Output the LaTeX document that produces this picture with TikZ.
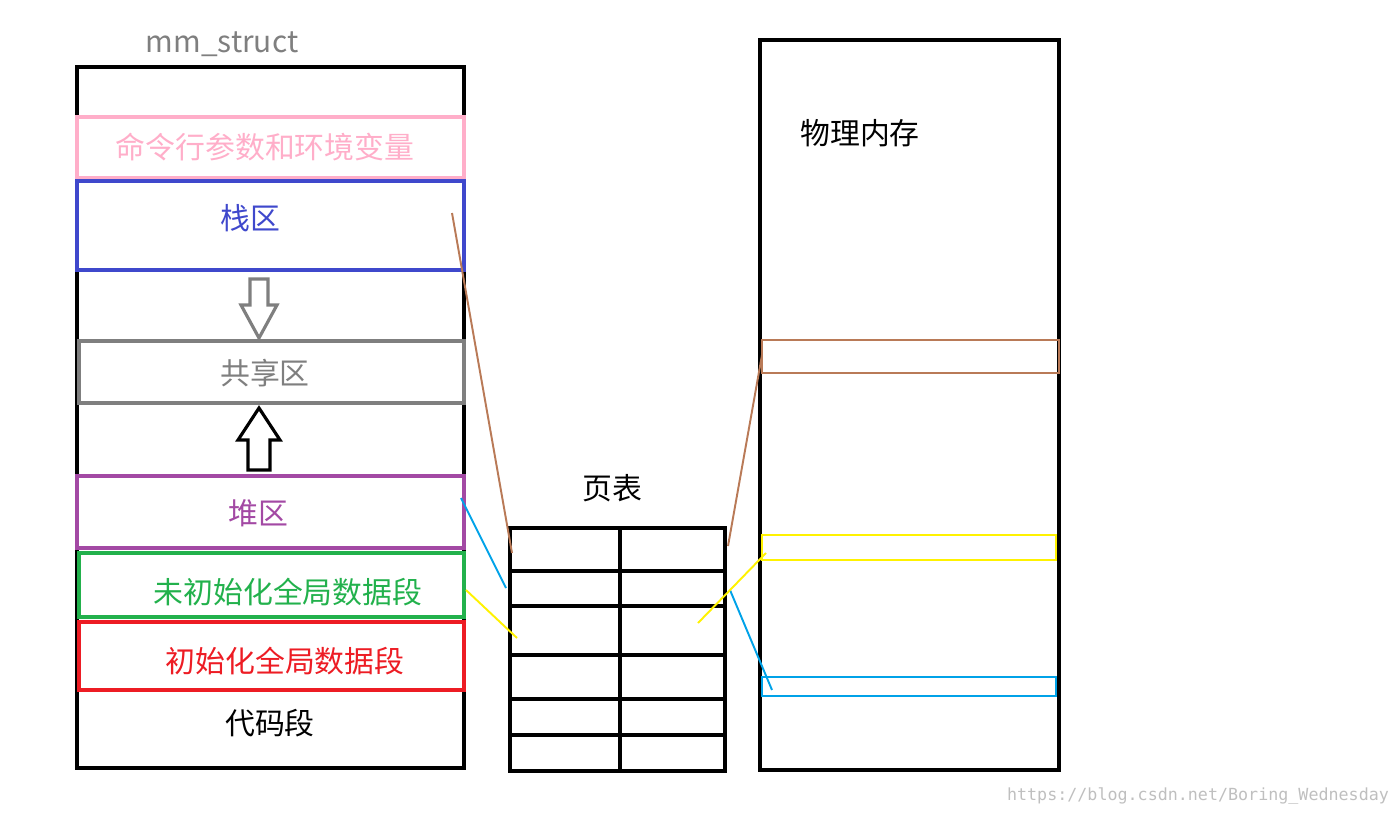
\documentclass[tikz,border=0pt]{standalone}
\usepackage{fontspec}
\setmainfont{Noto Sans CJK SC}
\setmonofont{DejaVu Sans Mono}
\definecolor{pinkc}{RGB}{255,174,201}
\definecolor{bluec}{RGB}{63,72,204}
\definecolor{grayc}{RGB}{127,127,127}
\definecolor{purplec}{RGB}{163,73,164}
\definecolor{greenc}{RGB}{34,177,76}
\definecolor{redc}{RGB}{237,28,36}
\definecolor{brownc}{RGB}{185,122,87}
\definecolor{yellowc}{RGB}{255,242,0}
\definecolor{cyanc}{RGB}{0,162,232}
\tikzset{
  seg/.style={draw, line width=1.8pt, inner sep=0pt},
  band/.style={draw, line width=1.2pt},
  lbl/.style={font=\fontsize{17}{19}\selectfont},
  link/.style={line width=1.1pt}
}
\begin{document}
\begin{tikzpicture}[x=0.02cm, y=-0.02cm]
    \useasboundingbox (0,0) rectangle (1399,816);
    % 进程地址空间
    \draw[line width=2pt] (77,67) rectangle (464,768);
    \node[lbl, text=grayc] (mm) at (222,44) {mm\_struct};
    \draw[seg, pinkc] (77,117) rectangle (464,178);
    \node[lbl, text=pinkc] (args) at (265,147) {命令行参数和环境变量};
    \draw[seg, bluec] (77,181) rectangle (464,270);
    \node[lbl, text=bluec] (stack) at (250,218) {栈区};
    \draw[seg, grayc] (79,341) rectangle (464,403);
    \node[lbl, text=grayc] (shared) at (265,373) {共享区};
    \draw[seg, purplec] (77,476) rectangle (464,548);
    \node[lbl, text=purplec] (heap) at (258,513) {堆区};
    \draw[seg, greenc] (79,553) rectangle (464,617);
    \node[lbl, text=greenc] (bss) at (288,592) {未初始化全局数据段};
    \draw[seg, redc] (79,622) rectangle (464,690);
    \node[lbl, text=redc] (data) at (285,661) {初始化全局数据段};
    \node[lbl] (text) at (270,723) {代码段};

    % 空心箭头
    \draw[line width=1.8pt, grayc] (250,279) -- (268,279) -- (268,305) -- (277,305)
        -- (259,338) -- (241,305) -- (250,305) -- cycle;
    \draw[line width=1.8pt] (248,470) -- (270,470) -- (270,440) -- (280,440)
        -- (259,408) -- (238,440) -- (248,440) -- cycle;

    % 页表
    \node[lbl] (pt) at (612,488) {页表};
    \draw[line width=2pt] (510,528) rectangle (725,771);
    \draw[line width=2pt] (620,528) -- (620,771);
    \foreach \y in {571,606,655,699,735}
        \draw[line width=2pt] (510,\y) -- (725,\y);

    % 物理内存
    \draw[line width=2pt] (760,40) rectangle (1059,770);
    \node[lbl] (phys) at (860,133) {物理内存};
    \draw[band, brownc] (762,340) rectangle (1059,373);
    \draw[band, yellowc] (762,535) rectangle (1056,560);
    \draw[band, cyanc] (762,677) rectangle (1056,696);

    % 映射关系
    \coordinate (s1) at (452,213); \coordinate (s2) at (512,553);
    \coordinate (s3) at (728,546); \coordinate (s4) at (762,355);
    \coordinate (h1) at (461,498); \coordinate (h2) at (506,588);
    \coordinate (h3) at (730,590); \coordinate (h4) at (772,690);
    \coordinate (b1) at (466,590); \coordinate (b2) at (517,638);
    \coordinate (b3) at (698,623); \coordinate (b4) at (766,553);
    \draw[link, brownc] (s1) -- (s2);
    \draw[link, brownc] (s3) -- (s4);
    \draw[link, cyanc] (h1) -- (h2);
    \draw[link, cyanc] (h3) -- (h4);
    \draw[link, yellowc] (b1) -- (b2);
    \draw[link, yellowc] (b3) -- (b4);

    \node[font=\ttfamily\fontsize{9.5}{10}\selectfont, text=black!25] (wm) at (1198,796)
        {https://blog.csdn.net/Boring\_Wednesday};
\end{tikzpicture}
\end{document}
